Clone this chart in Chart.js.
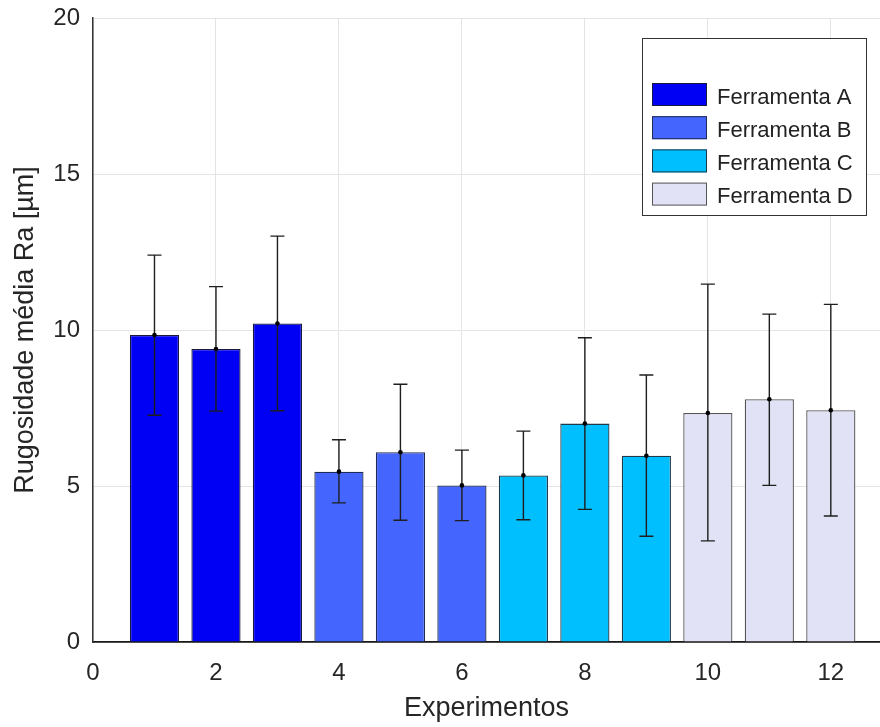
<!DOCTYPE html>
<html>
<head>
<meta charset="utf-8">
<script src="https://cdn.jsdelivr.net/npm/chart.js@4.4.1/dist/chart.umd.min.js"></script>
<style>
  html, body { margin: 0; padding: 0; background: #fff; }
  #wrap { width: 880px; height: 727px; }
</style>
</head>
<body>
<div id="wrap"><canvas id="myChart" width="880" height="727"></canvas></div>
<script>
// experiment number, mean Ra and error bar ends
const experiments = [1, 2, 3, 4, 5, 6, 7, 8, 9, 10, 11, 12];
const meanRa = [9.84, 9.39, 10.21, 5.46, 6.08, 5.02, 5.34, 7.0, 5.97, 7.34, 7.78, 7.43];
const lowRa = [7.27, 7.4, 7.41, 4.46, 3.9, 3.89, 3.92, 4.25, 3.39, 3.24, 5.02, 4.04];
const highRa = [12.4, 11.39, 13.01, 6.48, 8.26, 6.15, 6.76, 9.75, 8.56, 11.47, 10.51, 10.82];
const tool = [0, 0, 0, 1, 1, 1, 2, 2, 2, 3, 3, 3];
const toolNames = ['Ferramenta A', 'Ferramenta B', 'Ferramenta C', 'Ferramenta D'];
const toolColors = ['#0000f5', '#4466ff', '#00bfff', '#e2e2f6'];
const toolEdges = ['#1a1a40', '#1f2a55', '#1c3a4a', '#555555'];

const FONT = '"Liberation Sans", Arial, sans-serif';

const errorBars = {
    id: 'errorBars',
    afterDatasetsDraw(chart) {
        const { ctx, scales: { x, y } } = chart;
        ctx.save();
        ctx.strokeStyle = '#1e1e1e';
        ctx.fillStyle = '#000';
        ctx.lineWidth = 1.4;
        experiments.forEach((e, i) => {
            const px = x.getPixelForValue(e);
            const yl = y.getPixelForValue(lowRa[i]);
            const yh = y.getPixelForValue(highRa[i]);
            ctx.beginPath();
            ctx.moveTo(px, yl); ctx.lineTo(px, yh);
            ctx.moveTo(px - 7, yl); ctx.lineTo(px + 7, yl);
            ctx.moveTo(px - 7, yh); ctx.lineTo(px + 7, yh);
            ctx.stroke();
            ctx.beginPath();
            ctx.arc(px, y.getPixelForValue(meanRa[i]), 2.3, 0, Math.PI * 2);
            ctx.fill();
        });
        ctx.restore();
    }
};

const boxLegend = {
    id: 'boxLegend',
    afterDraw(chart) {
        const { ctx } = chart;
        ctx.save();
        ctx.fillStyle = '#fff';
        ctx.fillRect(642, 38, 225, 178);
        ctx.strokeStyle = '#333';
        ctx.lineWidth = 1;
        ctx.strokeRect(642.5, 38.5, 224, 177);
        ctx.font = '22px ' + FONT;
        ctx.textBaseline = 'alphabetic';
        toolNames.forEach((name, i) => {
            const top = 83 + i * 33.2;
            ctx.fillStyle = toolColors[i];
            ctx.fillRect(652, top, 55, 23);
            ctx.strokeStyle = toolEdges[i];
            ctx.strokeRect(652.5, top + 0.5, 54, 22);
            ctx.fillStyle = '#222';
            ctx.fillText(name, 717, top + 20.5);
        });
        ctx.restore();
    }
};

const ctx = document.getElementById('myChart').getContext('2d');
new Chart(ctx, {
    type: 'bar',
    data: {
        datasets: [{
            data: experiments.map((e, i) => ({ x: e, y: meanRa[i] })),
            backgroundColor: tool.map(t => toolColors[t]),
            borderColor: tool.map(t => toolEdges[t]),
            borderWidth: 1.3,
            borderSkipped: 'bottom',
            barPercentage: 0.8,
            categoryPercentage: 1.0
        }]
    },
    options: {
        responsive: false,
        animation: false,
        layout: { padding: { top: 18, right: 0, left: 0, bottom: 0 } },
        plugins: { legend: { display: false }, tooltip: { enabled: false } },
        scales: {
            x: {
                type: 'linear',
                offset: false,
                min: 0,
                max: 12.8,
                afterBuildTicks: (s) => { s.ticks = [0, 2, 4, 6, 8, 10, 12].map(v => ({ value: v })); },
                afterFit: (s) => { s.height = 85; s.paddingLeft = 0; s.paddingRight = 0; },
                grid: { color: '#e4e4e4', drawTicks: false, offset: false },
                border: { display: true, color: '#1a1a1a', width: 1.8 },
                ticks: { padding: 17, color: '#262626', font: { family: FONT, size: 24 }, maxRotation: 0 },
                title: { display: true, text: 'Experimentos', color: '#262626', font: { family: FONT, size: 27 }, padding: { top: 0, bottom: 2 } }
            },
            y: {
                min: 0,
                max: 20,
                afterBuildTicks: (s) => { s.ticks = [0, 5, 10, 15, 20].map(v => ({ value: v })); },
                afterFit: (s) => { s.width = 93; s.paddingTop = 0; s.paddingBottom = 0; },
                grid: { color: '#e4e4e4', drawTicks: false },
                border: { display: true, color: '#333', width: 1.5 },
                ticks: { padding: 13, color: '#262626', font: { family: FONT, size: 24 } },
                title: { display: true, text: 'Rugosidade média Ra [µm]', color: '#262626', font: { family: FONT, size: 27 }, padding: { bottom: 0, top: 9 } }
            }
        }
    },
    plugins: [errorBars, boxLegend]
});
</script>
</body>
</html>
